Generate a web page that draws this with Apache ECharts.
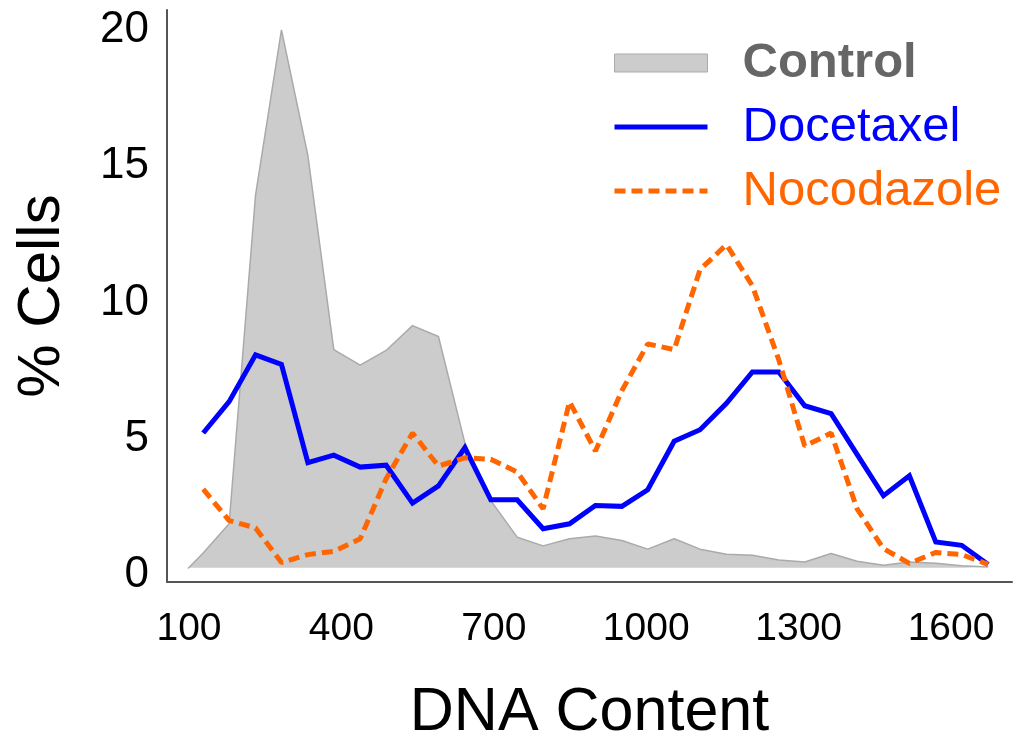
<!DOCTYPE html>
<html>
<head>
<meta charset="utf-8">
<script src="https://cdn.jsdelivr.net/npm/echarts@6/dist/echarts.min.js"></script>
<style>
  html, body { margin: 0; padding: 0; background: #ffffff; }
  #chart { width: 1031px; height: 749px; }
</style>
</head>
<body>
<div id="chart"></div>
<script>
// ---- data ----
var dnaBins = [128, 179, 231, 282, 334, 385, 437, 488, 540, 591, 643, 694, 746, 797, 849, 900,
               952, 1003, 1055, 1106, 1158, 1209, 1261, 1312, 1364, 1415, 1467, 1518, 1570, 1621, 1673];

var controlBins = [98, 128, 179, 231, 282, 334, 385, 437, 488, 540, 591, 643, 694, 746, 797, 849, 900,
                   952, 1003, 1055, 1106, 1158, 1209, 1261, 1312, 1364, 1415, 1467, 1518, 1570, 1621, 1673];
var controlValues = [0.24, 0.81, 1.88, 13.94, 20.0, 15.39, 8.27, 7.70, 8.24, 9.15, 8.75, 4.85, 2.73, 1.39, 1.07, 1.33,
                     1.43, 1.27, 0.95, 1.33, 0.95, 0.76, 0.73, 0.55, 0.48, 0.79, 0.51, 0.36, 0.48, 0.43, 0.34, 0.30];

var docetaxelValues = [5.21, 6.36, 8.08, 7.73, 4.12, 4.40, 3.96, 4.03, 2.64, 3.27, 4.67, 2.76, 2.76, 1.70, 1.88, 2.55,
                       2.52, 3.13, 4.91, 5.33, 6.30, 7.45, 7.45, 6.21, 5.92, 4.43, 2.91, 3.64, 1.21, 1.09, 0.39];

var nocodazoleValues = [3.15, 2.00, 1.73, 0.46, 0.75, 0.87, 1.33, 3.53, 5.21, 4.00, 4.30, 4.25, 3.78, 2.43, 6.36, 4.55,
                        6.76, 8.48, 8.27, 11.21, 12.12, 10.61, 7.89, 4.73, 5.21, 2.43, 0.97, 0.43, 0.83, 0.75, 0.39];

var xTickValues = [100, 400, 700, 1000, 1300, 1600];
var yTickValues = [0, 5, 10, 15, 20];

var seriesNames = ['Control', 'Docetaxel', 'Nocodazole'];

// ---- build ----
function pairs(xs, ys) {
  var out = [];
  for (var i = 0; i < ys.length; i++) out.push([xs[i], ys[i]]);
  return out;
}
function plain(v) { return String(v); }

var FONT = 'Liberation Sans, Arial, Helvetica, sans-serif';
var chart = echarts.init(document.getElementById('chart'), null, { renderer: 'canvas' });

chart.setOption({
  animation: false,
  backgroundColor: '#ffffff',
  grid: { left: 167, right: 19, top: 10, bottom: 162, containLabel: false },
  legend: {
    orient: 'vertical',
    left: 612,
    top: 37,
    padding: 0,
    itemWidth: 93,
    itemHeight: 18,
    itemGap: 12,
    selectedMode: false,
    lineStyle: { width: 5 },
    textStyle: { fontSize: 49, fontFamily: FONT, lineHeight: 52, padding: [0, 0, 0, 30] },
    data: [
      { name: seriesNames[0], icon: 'rect',
        itemStyle: { color: '#cccccc', borderColor: '#aaaaaa', borderWidth: 1 },
        textStyle: { color: '#666666', fontWeight: 'bold' } },
      { name: seriesNames[1], itemStyle: { opacity: 0 }, textStyle: { color: '#0000ff' } },
      { name: seriesNames[2], itemStyle: { opacity: 0 }, textStyle: { color: '#ff6600' } }
    ]
  },
  xAxis: {
    type: 'value',
    min: 56.7,
    max: 1720,
    name: 'DNA Content',
    nameLocation: 'middle',
    nameGap: 101,
    nameTextStyle: { fontSize: 61, fontFamily: FONT, color: '#000000' },
    axisLine: { show: true, onZero: false, lineStyle: { color: '#555555', width: 2 } },
    axisTick: { show: false },
    splitLine: { show: false },
    axisLabel: {
      customValues: xTickValues,
      formatter: plain,
      fontSize: 39, fontFamily: FONT, color: '#000000', margin: 28
    }
  },
  yAxis: {
    type: 'value',
    min: -0.2545,
    max: 20.727,
    name: '% Cells',
    nameLocation: 'middle',
    nameGap: 95,
    nameTextStyle: { fontSize: 60, fontFamily: FONT, color: '#000000' },
    axisLine: { show: true, onZero: false, lineStyle: { color: '#555555', width: 2 } },
    axisTick: { show: false },
    splitLine: { show: false },
    axisLabel: {
      customValues: yTickValues,
      formatter: plain,
      fontSize: 44, fontFamily: FONT, color: '#000000', margin: 18
    }
  },
  series: [
    {
      name: seriesNames[0],
      type: 'line',
      data: pairs(controlBins, controlValues),
      symbol: 'none',
      lineStyle: { color: '#aaaaaa', width: 1.5 },
      itemStyle: { color: '#cccccc' },
      areaStyle: { color: '#cccccc', opacity: 1, origin: 0.27 },
      z: 1
    },
    {
      name: seriesNames[1],
      type: 'line',
      data: pairs(dnaBins, docetaxelValues),
      symbol: 'none',
      lineStyle: { color: '#0000ff', width: 5, join: 'miter' },
      itemStyle: { color: '#0000ff' },
      z: 2
    },
    {
      name: seriesNames[2],
      type: 'line',
      data: pairs(dnaBins, nocodazoleValues),
      symbol: 'none',
      lineStyle: { color: '#ff6600', width: 5, type: [11, 6] },
      itemStyle: { color: '#ff6600' },
      z: 3
    }
  ]
});
</script>
</body>
</html>
